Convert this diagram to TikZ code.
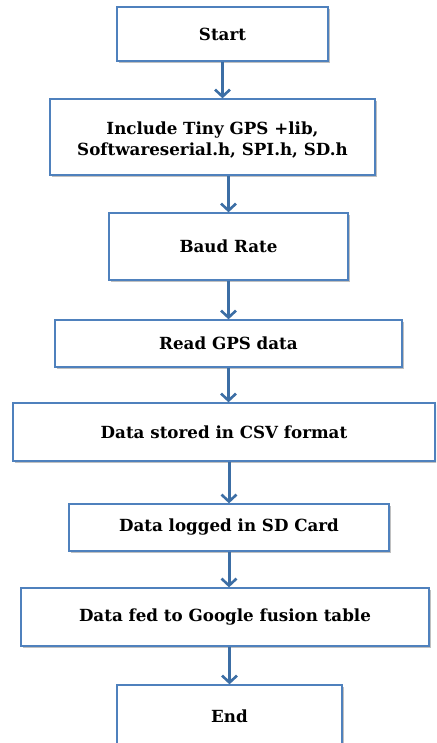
\documentclass[tikz,border=0pt]{standalone}
\usepackage{fontspec}
\setmainfont{DejaVu Serif}
\usepackage{tikz}
\usetikzlibrary{arrows.meta,shadows}
\definecolor{boxblue}{HTML}{4F81BD}
\definecolor{arrblue}{HTML}{3C6EA5}
\tikzset{
  flowbox/.style={draw=boxblue,line width=1.3pt,fill=white,align=center,
    font=\fontsize{16.7}{20}\selectfont\bfseries,inner sep=0pt,
    drop shadow={shadow xshift=2pt,shadow yshift=-2pt,opacity=.45,fill=black!55}},
  flowarr/.style={draw=arrblue,line width=3pt,-{Straight Barb[length=7pt,width=15pt,line width=2.6pt]}}
}
\begin{document}
\begin{tikzpicture}[x=1pt,y=-1pt]
\useasboundingbox(0,0)rectangle(436,743);
\clip(0,0)rectangle(436,743);
%boxes
\node[flowbox,minimum width=211pt,minimum height=54pt] (start) at (222.5,34){Start};
\node[flowbox,minimum width=325pt,minimum height=76pt] (incl) at (212.5,137){\raisebox{-3pt}[\height][\depth]{\shortstack{Include Tiny GPS +lib,\\[1pt]Softwareserial.h, SPI.h, SD.h}}};
\node[flowbox,minimum width=239pt,minimum height=67pt] (baud) at (228.5,246.5){Baud Rate};
\node[flowbox,minimum width=347pt,minimum height=47pt] (read) at (228.5,343.5){Read GPS data};
\node[flowbox,minimum width=422pt,minimum height=58pt] (stored) at (224,432){Data stored in CSV format};
\node[flowbox,minimum width=320pt,minimum height=47pt] (logged) at (229,527.5){Data logged in SD Card};
\node[flowbox,minimum width=408pt,minimum height=58pt] (fed) at (225,617){Data fed to Google fusion table};
\node[flowbox,minimum width=225pt,minimum height=62pt] (end) at (229.5,716){End};
%arrows
\draw[flowarr](start.south)--(start.south|-incl.north);
\draw[flowarr](incl.south-|baud.north)--(baud.north);
\draw[flowarr](baud.south)--(baud.south|-read.north);
\draw[flowarr](read.south)--(read.south|-stored.north);
\draw[flowarr](stored.south-|logged.north)--(logged.north);
\draw[flowarr](logged.south)--(logged.south|-fed.north);
\draw[flowarr](fed.south-|end.north)--(end.north);
\end{tikzpicture}
\end{document}
